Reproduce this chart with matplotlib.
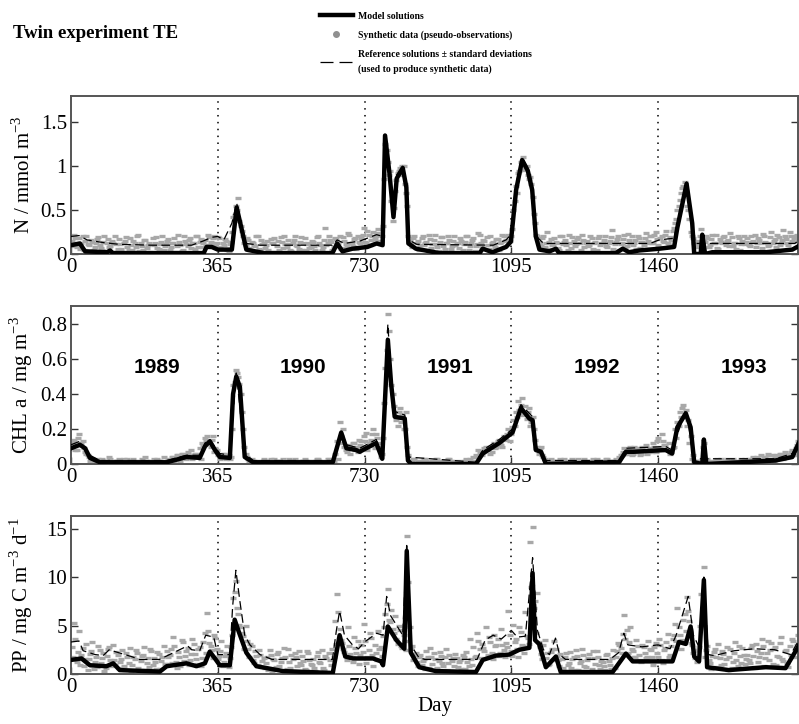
import numpy as np
import matplotlib
matplotlib.use('Agg')
import matplotlib.pyplot as plt
from matplotlib.lines import Line2D
from matplotlib.ticker import FormatStrFormatter

plt.rcParams['font.family'] = ['Liberation Serif', 'DejaVu Serif']
plt.rcParams['mathtext.fontset'] = 'custom'
plt.rcParams['mathtext.rm'] = 'Liberation Serif'

# year boundaries and labels
year_days = [365, 730, 1095, 1460]
years = ['1989', '1990', '1991', '1992', '1993']
year_label_days = [213, 578, 943, 1308, 1673]

# ---- N (nitrate) ----
n_model_day = [0, 22, 35, 90, 97, 104, 330, 337, 350, 365, 400, 412, 436, 480, 650, 662, 675, 700, 737, 760,
               775, 781, 792, 802, 810, 825, 834, 839, 858, 916, 1016, 1024, 1048, 1082, 1094, 1107, 1122,
               1136, 1147, 1156, 1165, 1190, 1206, 1214, 1355, 1372, 1388, 1413, 1463, 1500, 1508, 1531,
               1545, 1550, 1566, 1570, 1577, 1595, 1728, 1794, 1810]
n_model = [0.1, 0.12, 0.03, 0.02, 0.04, 0.01, 0.01, 0.08, 0.08, 0.05, 0.05, 0.53, 0.05, 0.01, 0.01, 0.12, 0.03,
           0.06, 0.08, 0.12, 0.1, 1.35, 0.92, 0.42, 0.86, 0.98, 0.76, 0.12, 0.06, 0.01, 0.01, 0.06, 0.02,
           0.08, 0.14, 0.73, 1.07, 0.95, 0.73, 0.2, 0.05, 0.03, 0.06, 0.01, 0.01, 0.06, 0.02, 0.04, 0.06,
           0.08, 0.3, 0.8, 0.35, 0.0, 0.0, 0.22, 0.0, 0.02, 0.02, 0.05, 0.09]
n_ref_day = [0, 20, 40, 80, 120, 200, 300, 330, 350, 365, 380, 400, 412, 425, 436, 470, 650, 662, 680, 720,
             760, 775, 781, 792, 802, 810, 825, 834, 840, 860, 1050, 1082, 1094, 1107, 1122, 1136, 1147,
             1158, 1175, 1440, 1463, 1500, 1508, 1531, 1545, 1552, 1800, 1810]
n_ref = [0.2, 0.21, 0.16, 0.13, 0.11, 0.1, 0.1, 0.15, 0.19, 0.2, 0.16, 0.35, 0.58, 0.3, 0.12, 0.1, 0.1, 0.16,
         0.12, 0.15, 0.22, 0.2, 1.3, 0.95, 0.5, 0.9, 1.0, 0.8, 0.16, 0.11, 0.1, 0.16, 0.22, 0.8, 1.1, 0.98,
         0.8, 0.2, 0.12, 0.12, 0.16, 0.18, 0.35, 0.82, 0.4, 0.12, 0.12, 0.15]
# synthetic observations, first set on days 2, 8, 14, ...
n_obs = [
    0.15, 0.22, 0.08, 0.18, 0.12, 0.05, 0.2, 0.1, 0.16, 0.04, 0.12, 0.19, 0.07, 0.14, 0.03, 0.17, 0.09, 0.13, 0.21, 0.06,
    0.11, 0.02, 0.15, 0.08, 0.18, 0.05, 0.12, 0.2, 0.03, 0.09, 0.16, 0.07, 0.13, 0.01, 0.1, 0.19, 0.06, 0.14, 0.04, 0.11,
    0.17, 0.08, 0.13, 0.02, 0.22, 0.1, 0.05, 0.15, 0.09, 0.18, 0.12, 0.06, 0.2, 0.14, 0.08, 0.16, 0.1, 0.19, 0.13, 0.2,
    0.12, 0.18, 0.06, 0.1, 0.15, 0.03, 0.14, 0.42, 0.55, 0.64, 0.32, 0.2, 0.1, 0.16, 0.05, 0.13, 0.09, 0.2, 0.04, 0.11,
    0.07, 0.15, 0.02, 0.12, 0.18, 0.09, 0.05, 0.14, 0.21, 0.08, 0.11, 0.03, 0.16, 0.1, 0.06, 0.19, 0.13, 0.04, 0.12, 0.08,
    0.14, 0.05, 0.2, 0.1, 0.08, 0.3, 0.12, 0.16, 0.04, 0.18, 0.11, 0.2, 0.07, 0.15, 0.09, 0.22, 0.13, 0.17, 0.06, 0.14,
    0.18, 0.3, 0.12, 0.22, 0.16, 0.25, 0.2, 0.28, 0.15, 0.32, 1.25, 1.05, 0.95, 0.38, 0.72, 0.92, 0.98, 1.0, 0.8, 0.55,
    0.15, 0.08, 0.2, 0.12, 0.05, 0.18, 0.1, 0.14, 0.22, 0.07, 0.16, 0.11, 0.03, 0.19, 0.09, 0.13, 0.2, 0.06, 0.15, 0.1,
    0.12, 0.18, 0.05, 0.14, 0.2, 0.09, 0.16, 0.03, 0.11, 0.22, 0.08, 0.15, 0.19, 0.06, 0.13, 0.1, 0.17, 0.04, 0.14, 0.21,
    0.16, 0.22, 0.2, 0.5, 0.78, 0.92, 1.05, 1.1, 0.98, 0.9, 0.88, 0.65, 0.35, 0.2, 0.12, 0.18, 0.08, 0.25, 0.14, 0.1,
    0.18, 0.12, 0.05, 0.2, 0.14, 0.1, 0.22, 0.07, 0.15, 0.11, 0.19, 0.04, 0.16, 0.13, 0.09, 0.21, 0.06, 0.14, 0.18, 0.1,
    0.12, 0.2, 0.08, 0.15, 0.27, 0.11, 0.17, 0.05, 0.13, 0.22, 0.09, 0.16, 0.2, 0.12, 0.06, 0.18, 0.14, 0.1, 0.24, 0.15,
    0.2, 0.13, 0.25, 0.1, 0.18, 0.15, 0.22, 0.12, 0.19, 0.26, 0.35, 0.5, 0.62, 0.75, 0.82, 0.55, 0.4, 0.2, 0.12, 0.08,
    0.1, 0.28, 0.15, 0.2, 0.08, 0.17, 0.12, 0.22, 0.06, 0.14, 0.19, 0.1, 0.16, 0.24, 0.09, 0.13, 0.2, 0.05, 0.15, 0.11,
    0.18, 0.09, 0.14, 0.22, 0.12, 0.16, 0.07, 0.2, 0.13, 0.1, 0.25, 0.15, 0.08, 0.19, 0.12, 0.27, 0.17, 0.1, 0.21, 0.14,
    0.2, 0.16]
# second set on days 5, 11, 17, ...
n_obs2 = [
    0.09, 0.18, 0.13, 0.06, 0.2, 0.15, 0.11, 0.03, 0.14, 0.08, 0.17, 0.1, 0.05, 0.2, 0.12, 0.08, 0.15, 0.02, 0.11, 0.17,
    0.06, 0.13, 0.19, 0.04, 0.1, 0.15, 0.08, 0.22, 0.12, 0.05, 0.16, 0.1, 0.02, 0.18, 0.13, 0.07, 0.11, 0.2, 0.09, 0.15,
    0.05, 0.12, 0.18, 0.09, 0.14, 0.03, 0.2, 0.11, 0.16, 0.07, 0.13, 0.21, 0.08, 0.17, 0.12, 0.1, 0.22, 0.14, 0.18, 0.09,
    0.19, 0.08, 0.13, 0.17, 0.04, 0.11, 0.25, 0.44, 0.5, 0.38, 0.26, 0.12, 0.18, 0.07, 0.14, 0.1, 0.2, 0.06, 0.16, 0.12,
    0.1, 0.05, 0.17, 0.12, 0.02, 0.15, 0.19, 0.07, 0.11, 0.16, 0.04, 0.13, 0.2, 0.09, 0.14, 0.05, 0.18, 0.11, 0.07, 0.15,
    0.09, 0.19, 0.12, 0.05, 0.16, 0.1, 0.21, 0.14, 0.08, 0.17, 0.12, 0.06, 0.19, 0.11, 0.24, 0.13, 0.09, 0.18, 0.21, 0.12,
    0.22, 0.14, 0.26, 0.1, 0.2, 0.17, 0.24, 0.15, 0.21, 0.85, 1.18, 0.9, 0.6, 0.52, 0.84, 0.95, 0.9, 1.0, 0.7, 0.2,
    0.12, 0.18, 0.07, 0.15, 0.1, 0.2, 0.13, 0.05, 0.17, 0.11, 0.22, 0.08, 0.14, 0.19, 0.06, 0.12, 0.16, 0.09, 0.21, 0.13,
    0.07, 0.15, 0.11, 0.2, 0.04, 0.13, 0.18, 0.09, 0.24, 0.12, 0.16, 0.06, 0.1, 0.2, 0.14, 0.08, 0.17, 0.12, 0.22, 0.15,
    0.2, 0.15, 0.28, 0.6, 0.7, 0.95, 1.02, 0.96, 1.0, 0.85, 0.8, 0.45, 0.22, 0.14, 0.09, 0.2, 0.12, 0.06, 0.17, 0.11,
    0.14, 0.07, 0.2, 0.11, 0.16, 0.05, 0.13, 0.19, 0.09, 0.17, 0.12, 0.22, 0.08, 0.15, 0.1, 0.18, 0.13, 0.04, 0.2, 0.12,
    0.16, 0.09, 0.13, 0.19, 0.06, 0.14, 0.2, 0.11, 0.17, 0.08, 0.23, 0.13, 0.1, 0.16, 0.2, 0.07, 0.14, 0.18, 0.12, 0.2,
    0.12, 0.22, 0.17, 0.08, 0.2, 0.14, 0.26, 0.1, 0.16, 0.3, 0.4, 0.55, 0.7, 0.78, 0.72, 0.5, 0.25, 0.18, 0.1, 0.15,
    0.2, 0.08, 0.14, 0.18, 0.1, 0.22, 0.13, 0.07, 0.17, 0.12, 0.2, 0.15, 0.09, 0.19, 0.13, 0.06, 0.18, 0.11, 0.21, 0.14,
    0.1, 0.2, 0.15, 0.08, 0.18, 0.12, 0.23, 0.14, 0.09, 0.19, 0.13, 0.17, 0.22, 0.1, 0.16, 0.2, 0.12, 0.25, 0.15, 0.18,
    0.22]

# ---- CHL a ----
chl_model_day = [0, 22, 35, 47, 72, 238, 287, 320, 333, 345, 358, 370, 395, 403, 411, 420, 432, 453, 651, 672,
                 685, 709, 718, 734, 759, 774, 788, 796, 805, 830, 838, 846, 1007, 1024, 1065, 1098, 1119, 1140,
                 1148, 1156, 1169, 1181, 1363, 1380, 1400, 1479, 1495, 1508, 1529, 1541, 1550, 1570, 1574, 1580,
                 1752, 1794, 1810]
chl_model = [0.09, 0.11, 0.09, 0.035, 0.01, 0.01, 0.04, 0.035, 0.1, 0.13, 0.08, 0.04, 0.035, 0.4, 0.5, 0.44,
             0.04, 0.01, 0.01, 0.18, 0.09, 0.08, 0.07, 0.09, 0.12, 0.03, 0.71, 0.46, 0.27, 0.26, 0.02, 0.0, 0.0,
             0.06, 0.12, 0.18, 0.32, 0.26, 0.25, 0.08, 0.07, 0.0, 0.01, 0.07, 0.07, 0.08, 0.06, 0.21, 0.29, 0.21,
             0.01, 0.0, 0.14, 0.0, 0.02, 0.04, 0.12]
chl_ref_day = [0, 22, 47, 72, 238, 287, 320, 333, 345, 370, 395, 411, 432, 453, 651, 672, 685, 718, 759, 774,
               788, 796, 805, 830, 838, 1007, 1024, 1065, 1098, 1119, 1148, 1156, 1181, 1363, 1380, 1479, 1495,
               1529, 1550, 1752, 1794, 1810]
chl_ref = [0.11, 0.13, 0.05, 0.02, 0.02, 0.05, 0.05, 0.12, 0.14, 0.06, 0.05, 0.52, 0.06, 0.02, 0.02, 0.19, 0.11,
           0.09, 0.14, 0.05, 0.8, 0.5, 0.3, 0.28, 0.04, 0.01, 0.08, 0.14, 0.2, 0.34, 0.27, 0.1, 0.02, 0.02, 0.09,
           0.1, 0.08, 0.31, 0.03, 0.03, 0.06, 0.13]
chl_obs = [
    0.1, 0.14, 0.08, 0.17, 0.12, 0.09, 0.06, 0.04, 0.03, 0.02, 0.01, 0.03, 0.02, 0.0, 0.02, 0.01, 0.03, 0.02, 0.0, 0.01,
    0.02, 0.0, 0.01, 0.03, 0.01, 0.02, 0.0, 0.02, 0.01, 0.03, 0.0, 0.02, 0.01, 0.02, 0.03, 0.01, 0.0, 0.02, 0.04, 0.01,
    0.03, 0.02, 0.04, 0.03, 0.05, 0.02, 0.06, 0.04, 0.07, 0.05, 0.03, 0.06, 0.04, 0.09, 0.12, 0.15, 0.16, 0.12, 0.14, 0.07,
    0.08, 0.05, 0.04, 0.06, 0.03, 0.05, 0.04, 0.45, 0.54, 0.5, 0.4, 0.2, 0.06, 0.03, 0.02, 0.01, 0.02, 0.0, 0.01, 0.02,
    0.01, 0.02, 0.0, 0.01, 0.03, 0.02, 0.01, 0.0, 0.02, 0.01, 0.03, 0.02, 0.01, 0.0, 0.02, 0.01, 0.02, 0.0, 0.01, 0.02,
    0.02, 0.01, 0.03, 0.0, 0.02, 0.01, 0.03, 0.02, 0.01, 0.06, 0.13, 0.24, 0.12, 0.1, 0.07, 0.11, 0.09, 0.12, 0.1, 0.14,
    0.13, 0.16, 0.18, 0.11, 0.14, 0.2, 0.17, 0.1, 0.04, 0.15, 0.55, 0.86, 0.6, 0.4, 0.3, 0.22, 0.32, 0.28, 0.2, 0.1,
    0.02, 0.01, 0.03, 0.0, 0.02, 0.01, 0.03, 0.02, 0.0, 0.01, 0.02, 0.03, 0.01, 0.0, 0.02, 0.01, 0.03, 0.02, 0.01, 0.0,
    0.02, 0.01, 0.0, 0.02, 0.01, 0.03, 0.02, 0.01, 0.04, 0.07, 0.05, 0.09, 0.08, 0.1, 0.07, 0.12, 0.1, 0.14, 0.11, 0.16,
    0.14, 0.2, 0.17, 0.25, 0.3, 0.36, 0.34, 0.28, 0.33, 0.3, 0.22, 0.27, 0.14, 0.1, 0.09, 0.05, 0.03, 0.02, 0.01, 0.02,
    0.01, 0.02, 0.0, 0.01, 0.03, 0.02, 0.01, 0.0, 0.02, 0.01, 0.03, 0.02, 0.0, 0.01, 0.02, 0.01, 0.03, 0.02, 0.01, 0.0,
    0.02, 0.01, 0.03, 0.02, 0.0, 0.02, 0.01, 0.04, 0.05, 0.09, 0.06, 0.08, 0.05, 0.1, 0.07, 0.09, 0.06, 0.08, 0.11, 0.07,
    0.09, 0.12, 0.07, 0.15, 0.1, 0.13, 0.11, 0.08, 0.06, 0.09, 0.2, 0.24, 0.3, 0.32, 0.27, 0.22, 0.12, 0.03, 0.01, 0.02,
    0.01, 0.02, 0.12, 0.0, 0.02, 0.01, 0.0, 0.02, 0.01, 0.03, 0.02, 0.01, 0.0, 0.02, 0.03, 0.01, 0.02, 0.0, 0.01, 0.03,
    0.02, 0.01, 0.03, 0.02, 0.04, 0.03, 0.02, 0.04, 0.03, 0.05, 0.03, 0.02, 0.05, 0.04, 0.06, 0.03, 0.05, 0.04, 0.07, 0.05,
    0.09, 0.13]
chl_obs2 = [
    0.12, 0.08, 0.15, 0.11, 0.13, 0.07, 0.05, 0.02, 0.03, 0.01, 0.02, 0.0, 0.03, 0.01, 0.02, 0.04, 0.0, 0.01, 0.02, 0.03,
    0.01, 0.03, 0.0, 0.02, 0.01, 0.03, 0.02, 0.0, 0.01, 0.02, 0.04, 0.01, 0.0, 0.02, 0.01, 0.03, 0.02, 0.01, 0.0, 0.02,
    0.02, 0.04, 0.02, 0.05, 0.03, 0.06, 0.04, 0.03, 0.05, 0.08, 0.04, 0.06, 0.05, 0.03, 0.11, 0.13, 0.12, 0.1, 0.16, 0.09,
    0.05, 0.03, 0.06, 0.04, 0.05, 0.03, 0.2, 0.47, 0.52, 0.46, 0.3, 0.1, 0.04, 0.02, 0.03, 0.01, 0.0, 0.02, 0.01, 0.03,
    0.02, 0.01, 0.03, 0.0, 0.02, 0.01, 0.02, 0.03, 0.0, 0.01, 0.02, 0.01, 0.03, 0.02, 0.0, 0.01, 0.03, 0.02, 0.01, 0.0,
    0.01, 0.03, 0.02, 0.0, 0.01, 0.02, 0.03, 0.01, 0.02, 0.0, 0.03, 0.16, 0.2, 0.08, 0.1, 0.06, 0.12, 0.08, 0.07, 0.11,
    0.1, 0.13, 0.08, 0.12, 0.17, 0.09, 0.15, 0.12, 0.06, 0.35, 0.65, 0.76, 0.45, 0.33, 0.25, 0.3, 0.24, 0.2, 0.3, 0.05,
    0.01, 0.03, 0.0, 0.02, 0.01, 0.02, 0.03, 0.0, 0.01, 0.02, 0.0, 0.03, 0.01, 0.02, 0.0, 0.01, 0.03, 0.02, 0.0, 0.01,
    0.01, 0.0, 0.02, 0.03, 0.01, 0.02, 0.04, 0.05, 0.08, 0.06, 0.07, 0.1, 0.09, 0.06, 0.11, 0.09, 0.13, 0.12, 0.1, 0.15,
    0.17, 0.13, 0.21, 0.22, 0.27, 0.31, 0.38, 0.3, 0.26, 0.32, 0.24, 0.2, 0.09, 0.06, 0.1, 0.04, 0.02, 0.01, 0.03, 0.0,
    0.02, 0.01, 0.03, 0.0, 0.01, 0.02, 0.0, 0.03, 0.01, 0.02, 0.0, 0.01, 0.03, 0.02, 0.0, 0.01, 0.02, 0.03, 0.01, 0.02,
    0.01, 0.03, 0.0, 0.02, 0.01, 0.03, 0.02, 0.05, 0.07, 0.06, 0.08, 0.1, 0.06, 0.09, 0.07, 0.05, 0.1, 0.08, 0.06, 0.09,
    0.07, 0.1, 0.13, 0.09, 0.17, 0.11, 0.08, 0.12, 0.07, 0.1, 0.15, 0.22, 0.27, 0.34, 0.31, 0.25, 0.16, 0.05, 0.02, 0.0,
    0.02, 0.1, 0.01, 0.03, 0.0, 0.02, 0.01, 0.03, 0.02, 0.0, 0.01, 0.03, 0.02, 0.01, 0.0, 0.02, 0.01, 0.03, 0.02, 0.01,
    0.03, 0.02, 0.04, 0.01, 0.03, 0.05, 0.02, 0.04, 0.06, 0.03, 0.05, 0.04, 0.03, 0.06, 0.05, 0.07, 0.04, 0.06, 0.08, 0.05,
    0.11]

# ---- PP (primary production) ----
pp_model_day = [0, 26, 47, 88, 105, 121, 221, 238, 287, 312, 333, 345, 358, 370, 395, 407, 416, 436, 461, 527,
                651, 668, 682, 701, 751, 771, 776, 788, 809, 829, 835, 845, 866, 907, 1007, 1024, 1057, 1090,
                1115, 1140, 1148, 1154, 1164, 1181, 1206, 1218, 1347, 1380, 1397, 1496, 1512, 1529, 1541, 1550,
                1562, 1574, 1582, 1636, 1728, 1777, 1810]
pp_model = [1.45, 1.6, 0.9, 0.8, 1.1, 0.4, 0.25, 0.8, 1.1, 0.8, 1.1, 2.3, 1.6, 0.9, 0.9, 5.6, 4.5, 2.2, 0.8,
            0.3, 0.1, 4.0, 1.8, 1.6, 1.6, 1.3, 0.9, 4.9, 3.5, 2.6, 12.7, 2.2, 0.7, 0.3, 0.2, 1.45, 1.9, 2.0, 2.5,
            2.7, 10.4, 3.5, 3.1, 0.7, 1.8, 0.2, 0.2, 2.1, 1.3, 1.3, 3.3, 3.1, 4.9, 1.8, 1.3, 9.7, 0.7, 0.4, 0.7,
            0.6, 2.9]
pp_ref_day = [0, 20, 30, 60, 80, 95, 110, 150, 170, 220, 260, 290, 300, 320, 335, 355, 365, 395, 402, 410, 420,
              432, 445, 470, 500, 650, 660, 668, 680, 700, 715, 730, 760, 776, 785, 795, 810, 825, 835, 845, 865,
              880, 1010, 1030, 1050, 1070, 1095, 1110, 1130, 1148, 1160, 1175, 1190, 1205, 1215, 1230, 1340,
              1362, 1375, 1385, 1420, 1460, 1490, 1505, 1520, 1535, 1548, 1565, 1574, 1585, 1600, 1650, 1700,
              1750, 1790, 1810]
pp_ref = [3.3, 3.4, 2.4, 2.0, 1.9, 2.5, 2.3, 1.8, 1.5, 1.5, 2.3, 2.9, 2.5, 2.4, 4.0, 3.8, 2.0, 2.0, 7.0, 10.7,
          7.5, 4.0, 3.0, 2.0, 1.5, 1.5, 4.5, 6.5, 4.0, 3.0, 2.6, 3.3, 4.2, 4.0, 8.0, 6.0, 5.0, 4.0, 13.5, 3.0,
          1.7, 1.5, 1.5, 3.5, 4.0, 3.6, 4.5, 3.8, 3.9, 12.0, 4.5, 2.5, 2.0, 3.7, 2.0, 1.5, 1.5, 2.2, 4.2, 3.0,
          2.8, 3.0, 2.6, 4.0, 6.0, 8.0, 4.0, 2.5, 10.0, 2.0, 1.9, 2.4, 2.6, 2.5, 2.0, 3.5]
pp_obs = [
    2.8, 5.3, 1.2, 4.4, 2.0, 0.8, 3.1, 1.5, 2.4, 0.5, 1.8, 2.9, 1.1, 2.2, 0.6, 2.6, 1.4, 3.0, 0.9, 2.0,
    1.2, 2.5, 0.4, 1.8, 2.7, 0.9, 1.5, 2.2, 0.3, 1.9, 2.8, 1.1, 0.7, 2.4, 1.6, 0.5, 2.1, 1.3, 2.9, 1.0,
    1.7, 2.6, 3.8, 1.2, 2.3, 0.8, 3.3, 1.9, 2.7, 1.4, 3.6, 2.1, 1.0, 2.8, 1.6, 4.2, 6.3, 3.2, 2.5, 4.0,
    2.6, 1.9, 3.4, 1.2, 2.2, 0.7, 2.8, 7.8, 9.6, 6.2, 4.8, 3.9, 5.0, 2.6, 3.1, 1.4, 2.4, 0.9, 2.0, 1.3,
    0.6, 1.8, 2.5, 0.3, 1.4, 2.1, 0.8, 1.6, 2.7, 0.5, 1.2, 2.0, 0.2, 1.7, 2.4, 0.9, 1.3, 0.4, 2.2, 1.0,
    1.5, 0.3, 2.3, 1.1, 0.6, 1.9, 0.2, 1.4, 2.6, 5.5, 8.3, 4.6, 3.2, 2.3, 1.4, 2.9, 1.7, 3.8, 2.2, 1.0,
    3.0, 5.2, 1.1, 2.5, 3.7, 0.8, 2.2, 4.4, 2.8, 3.9, 6.2, 8.8, 5.4, 4.6, 6.0, 3.1, 4.5, 2.7, 3.4, 14.2,
    4.8, 2.9, 2.0, 1.2, 1.8, 0.9, 1.5, 2.4, 0.6, 1.7, 2.2, 0.4, 1.3, 1.9, 0.8, 2.6, 1.1, 0.3, 1.6, 2.1,
    0.7, 1.4, 2.0, 0.5, 1.2, 3.6, 0.9, 1.8, 4.2, 2.6, 3.1, 2.4, 1.6, 3.8, 2.2, 4.0, 3.0, 1.9, 4.6, 2.5,
    3.2, 6.5, 2.4, 5.1, 3.6, 1.8, 4.3, 2.9, 6.4, 3.7, 13.6, 15.2, 7.5, 8.4, 2.8, 1.5, 3.5, 2.2, 1.0, 2.6,
    3.4, 1.9, 0.8, 1.5, 0.3, 2.2, 1.1, 0.6, 1.8, 2.5, 0.4, 1.3, 2.0, 0.7, 1.6, 0.2, 2.4, 1.0, 1.7, 0.5,
    1.2, 0.4, 2.1, 0.9, 1.6, 0.6, 2.4, 3.0, 2.2, 6.1, 4.5, 3.3, 2.6, 1.8, 3.5, 2.0, 1.2, 2.8, 1.6, 3.4,
    2.5, 0.9, 3.2, 1.8, 3.0, 1.1, 2.7, 4.1, 2.0, 3.6, 5.2, 6.8, 4.0, 3.5, 6.2, 7.9, 5.5, 3.0, 2.4, 1.2,
    2.8, 8.2, 11.0, 2.5, 1.4, 0.5, 2.3, 1.8, 3.1, 0.9, 2.1, 1.5, 0.4, 2.6, 1.2, 3.3, 0.8, 1.9, 2.7, 1.0,
    2.0, 1.1, 3.0, 0.6, 2.4, 1.7, 3.6, 0.8, 2.2, 1.4, 3.2, 2.6, 0.9, 1.8, 3.8, 1.3, 2.5, 0.7, 2.0, 3.4,
    2.6, 4.0]
pp_obs2 = [
    1.8, 3.6, 2.3, 0.9, 2.7, 1.5, 0.4, 2.1, 3.3, 1.2, 0.7, 2.5, 1.6, 0.3, 1.9, 2.8, 0.8, 1.4, 2.3, 0.6,
    1.5, 0.8, 2.2, 1.1, 0.2, 1.7, 2.5, 0.6, 1.3, 2.0, 0.4, 1.6, 2.6, 0.9, 1.2, 2.3, 0.5, 1.8, 1.0, 2.4,
    2.0, 1.1, 2.9, 0.6, 1.8, 3.5, 1.3, 2.4, 0.9, 2.1, 3.1, 1.5, 2.6, 0.8, 3.3, 2.2, 4.4, 2.9, 1.6, 3.7,
    1.5, 2.4, 0.8, 1.9, 2.9, 1.6, 4.0, 8.5, 6.8, 5.1, 4.2, 2.6, 3.4, 1.8, 2.9, 1.1, 1.9, 2.5, 0.7, 1.6,
    1.1, 0.4, 2.0, 1.5, 0.7, 2.3, 1.2, 0.3, 1.8, 2.6, 0.6, 1.5, 2.2, 0.8, 1.1, 1.9, 0.5, 2.4, 1.4, 0.9,
    0.6, 1.9, 1.2, 2.5, 0.4, 1.6, 2.2, 0.9, 1.7, 3.1, 6.4, 3.5, 2.6, 1.9, 4.8, 2.1, 1.2, 2.7, 3.4, 2.0,
    2.3, 3.4, 1.7, 4.2, 2.0, 3.0, 1.4, 2.6, 1.9, 4.8, 7.2, 5.6, 6.6, 4.2, 3.6, 5.0, 2.9, 4.0, 2.5, 9.5,
    2.6, 1.4, 2.2, 0.8, 2.0, 1.3, 0.5, 1.8, 2.7, 1.0, 1.5, 0.6, 2.3, 1.1, 1.7, 0.4, 2.0, 1.3, 0.8, 1.6,
    1.2, 0.5, 1.7, 2.3, 0.8, 1.5, 2.8, 1.9, 3.4, 1.6, 2.7, 4.8, 2.0, 3.3, 1.5, 2.9, 3.6, 2.2, 3.0, 1.7,
    2.8, 4.0, 1.9, 3.3, 2.6, 4.8, 3.0, 2.2, 3.9, 3.1, 9.0, 6.8, 4.2, 3.3, 2.1, 3.0, 1.6, 0.9, 2.3, 1.4,
    2.6, 1.4, 2.1, 0.6, 1.7, 0.9, 2.3, 1.5, 0.4, 1.9, 1.1, 2.6, 0.8, 1.4, 2.1, 0.5, 1.6, 2.4, 0.9, 1.3,
    0.8, 2.0, 1.3, 0.5, 2.5, 1.8, 3.2, 2.7, 4.1, 3.6, 2.2, 4.8, 2.4, 1.7, 2.9, 1.4, 3.0, 2.2, 1.8, 2.6,
    1.7, 2.8, 2.2, 3.6, 1.4, 2.5, 3.3, 1.8, 2.9, 4.0, 3.4, 4.8, 2.6, 5.6, 4.4, 6.5, 3.2, 2.2, 1.6, 2.5,
    5.0, 6.8, 1.8, 2.9, 1.1, 1.9, 2.6, 0.7, 1.6, 2.4, 1.0, 2.8, 1.7, 0.6, 2.2, 1.4, 2.9, 1.1, 2.0, 1.5,
    1.4, 2.7, 1.9, 3.1, 1.2, 2.2, 2.9, 1.6, 3.4, 2.5, 1.0, 2.8, 1.9, 3.2, 1.5, 2.4, 1.1, 2.9, 3.6, 1.8,
    3.0]

obs_step = 6

panels = [
    dict(model_day=n_model_day, model=n_model, ref_day=n_ref_day, ref=n_ref, obs=[n_obs, n_obs2],
         ylim=(0, 1.8), yticks=[0, 0.5, 1, 1.5], ylabel=r'N / mmol m$^{-3}$', rect=[0.0889, 0.6492, 0.9098, 0.2182]),
    dict(model_day=chl_model_day, model=chl_model, ref_day=chl_ref_day, ref=chl_ref, obs=[chl_obs, chl_obs2],
         ylim=(0, 0.903), yticks=[0, 0.2, 0.4, 0.6, 0.8], ylabel=r'CHL a / mg m$^{-3}$', rect=[0.0889, 0.3591, 0.9098, 0.2182]),
    dict(model_day=pp_model_day, model=pp_model, ref_day=pp_ref_day, ref=pp_ref, obs=[pp_obs, pp_obs2],
         ylim=(0, 16.3), yticks=[0, 5, 10, 15], ylabel=r'PP / mg C m$^{-3}$ d$^{-1}$', rect=[0.0889, 0.0691, 0.9098, 0.2182]),
]

fig = plt.figure(figsize=(7.99, 7.24), dpi=100)

obs_color = '#a8a8a8'
for i, p in enumerate(panels):
    ax = fig.add_axes(p['rect'])
    for start, vals in zip([2, 5], p['obs']):
        obs_days = start + obs_step * np.arange(len(vals))
        ax.plot(obs_days, vals, linestyle='none', marker='_', markersize=4.5, mew=2.4, color=obs_color, zorder=2)
    ax.plot(p['ref_day'], p['ref'], color='black', lw=0.9, dashes=(7, 3.5), zorder=3)
    ax.plot(p['model_day'], p['model'], color='black', lw=3.2, solid_joinstyle='round', zorder=4)
    for d in year_days:
        ax.axvline(d, color='black', lw=1.1, dashes=(1, 3.5), zorder=1)
    ax.set_xlim(0, 1808)
    ax.set_ylim(*p['ylim'])
    ax.set_xticks([0] + year_days)
    ax.set_yticks(p['yticks'])
    ax.yaxis.set_major_formatter(FormatStrFormatter('%g'))
    ax.tick_params(direction='in', length=5, width=1, labelsize=15, right=True, colors='#333333',
                   labelcolor='black', pad=3)
    for s in ax.spines.values():
        s.set_color('#555555')
        s.set_linewidth(1.4)
    ax.set_ylabel(p['ylabel'], fontsize=15)
    ax.yaxis.set_label_coords(-0.05, 0.5)
    if i == 1:
        for d, y in zip(year_label_days, years):
            ax.text(d, 0.55, y, fontsize=15, fontweight='bold', family='Liberation Sans',
                    ha='center', va='center')
    if i == 2:
        ax.set_xlabel('Day', fontsize=15, labelpad=0)

fig.text(0.016, 1 - 38 / 724, 'Twin experiment TE', fontsize=13.5, fontweight='bold', va='baseline')

handles = [
    Line2D([], [], color='black', lw=3.2),
    Line2D([], [], color='#909090', marker='o', markersize=4, linestyle='none'),
    Line2D([], [], color='black', lw=0.9, dashes=(10.4, 4.8)),
]
labels = ['Model solutions', 'Synthetic data (pseudo-observations)',
          'Reference solutions \u00b1 standard deviations\n(used to produce synthetic data)']
leg = fig.legend(handles, labels, loc='upper left', bbox_to_anchor=(313 / 799, 1 - 5 / 724), frameon=False,
                 prop={'family': 'Liberation Serif', 'weight': 'bold', 'size': 7}, handlelength=3.4,
                 handletextpad=0.5, labelspacing=1.0, borderpad=0.2)
leg.get_texts()[2].set_linespacing(1.7)

fig.savefig('out.png', dpi=100)
